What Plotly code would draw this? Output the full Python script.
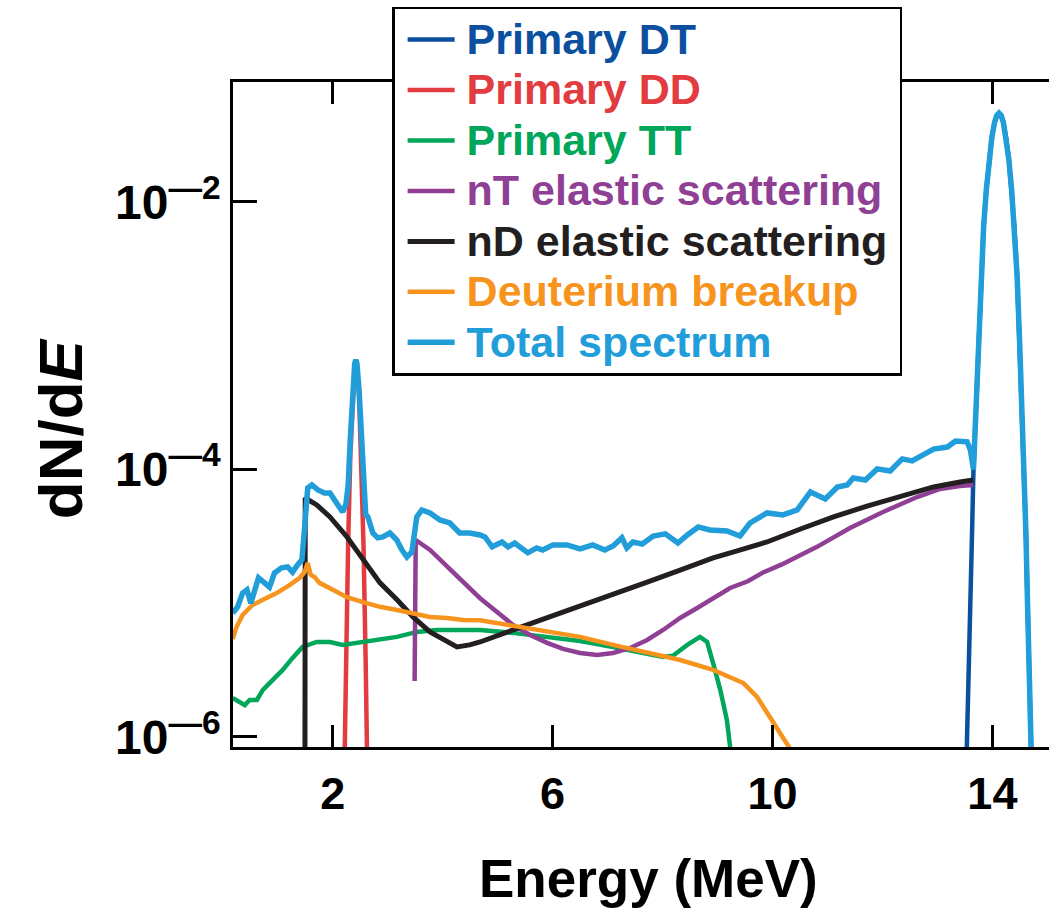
import plotly.graph_objects as go

# ---------------- data ----------------
energy_total = [0.18, 0.27, 0.36, 0.44, 0.51, 0.58, 0.65, 0.76, 0.85, 0.94,
                1.07, 1.18, 1.27, 1.36, 1.44, 1.49, 1.545, 1.62, 1.73, 1.85,
                1.95, 2.07, 2.18, 2.24, 2.28, 2.32, 2.36, 2.40, 2.42, 2.44,
                2.48, 2.52, 2.56, 2.60, 2.64, 2.73, 2.82, 2.91, 3.04, 3.165,
                3.26, 3.35, 3.44, 3.53, 3.62, 3.77, 3.95, 4.13, 4.31, 4.49,
                4.68, 4.77, 4.90, 5.08, 5.19, 5.31, 5.55, 5.71, 5.82, 6.005,
                6.26, 6.50, 6.73, 6.95, 7.10, 7.26, 7.35, 7.46, 7.63, 7.83,
                8.05, 8.28, 8.45, 8.65, 8.86, 9.17, 9.41, 9.59, 9.90, 10.19,
                10.45, 10.69, 10.96, 11.18, 11.36, 11.47, 11.69, 11.905, 12.14, 12.36,
                12.54, 12.82, 12.93, 13.18, 13.33, 13.54, 13.60, 13.656, 13.70, 13.74,
                13.79, 13.84, 13.89, 13.94, 13.99, 14.04, 14.08, 14.12, 14.16, 14.20,
                14.25, 14.30, 14.35, 14.40, 14.45, 14.50, 14.54, 14.584, 14.61, 14.64,
                14.67, 14.694, 14.76]
dnde_total = [8.45e-6, 9.4e-6, 1.19e-5, 1.26e-5, 1.00e-5, 1.26e-5, 1.55e-5, 1.42e-5, 1.32e-5, 1.68e-5,
              1.84e-5, 1.87e-5, 1.71e-5, 1.93e-5, 2.11e-5, 3.72e-5, 7.27e-5, 7.66e-5, 7.03e-5, 6.67e-5,
              6.67e-5, 5.62e-5, 4.81e-5, 5.5e-5, 7.5e-5, 1.7e-4, 3.9e-4, 6.2e-4, 6.6e-4, 6.2e-4,
              3.9e-4, 1.7e-4, 7e-5, 4.6e-5, 4.42e-5, 3.35e-5, 3.08e-5, 3.13e-5, 3.35e-5, 2.97e-5,
              2.50e-5, 2.22e-5, 2.42e-5, 4.42e-5, 4.98e-5, 4.73e-5, 4.19e-5, 3.98e-5, 3.35e-5, 3.35e-5,
              3.24e-5, 3.13e-5, 2.64e-5, 2.87e-5, 2.64e-5, 2.82e-5, 2.38e-5, 2.59e-5, 2.50e-5, 2.73e-5,
              2.73e-5, 2.55e-5, 2.73e-5, 2.50e-5, 2.68e-5, 3.08e-5, 2.59e-5, 2.87e-5, 2.77e-5, 3.18e-5,
              3.30e-5, 2.82e-5, 3.24e-5, 3.72e-5, 3.53e-5, 3.47e-5, 3.18e-5, 3.98e-5, 4.73e-5, 4.57e-5,
              4.98e-5, 6.79e-5, 6.02e-5, 7.40e-5, 7.66e-5, 8.63e-5, 8.35e-5, 1.01e-4, 9.75e-5, 1.20e-4,
              1.16e-4, 1.33e-4, 1.42e-4, 1.47e-4, 1.63e-4, 1.61e-4, 1.40e-4, 1.0e-4, 2.99e-4, 8.0e-4,
              2.79e-3, 6.46e-3, 1.24e-2, 2.07e-2, 3.03e-2, 3.94e-2, 4.44e-2, 4.62e-2, 4.44e-2, 3.94e-2,
              3.03e-2, 2.07e-2, 1.24e-2, 6.46e-3, 2.79e-3, 8.0e-4, 2.99e-4, 1.0e-4, 3.35e-5, 9.7e-6,
              2.75e-6, 1.0e-6, 1.0e-7]

energy_dt = [13.48, 13.546, 13.57, 13.60, 13.63, 13.656, 13.70, 13.74, 13.79, 13.84,
             13.89, 13.94, 13.99, 14.04, 14.08, 14.12, 14.16, 14.20, 14.25, 14.30,
             14.35, 14.40, 14.45, 14.50, 14.54, 14.584, 14.61, 14.64, 14.67, 14.694, 14.76]
dnde_dt = [1e-7, 1e-6, 2.75e-6, 9.7e-6, 3.35e-5, 1.0e-4, 2.99e-4, 8.0e-4, 2.79e-3, 6.46e-3,
           1.24e-2, 2.07e-2, 3.03e-2, 3.94e-2, 4.44e-2, 4.62e-2, 4.44e-2, 3.94e-2, 3.03e-2, 2.07e-2,
           1.24e-2, 6.46e-3, 2.79e-3, 8.0e-4, 2.99e-4, 1.0e-4, 3.35e-5, 9.7e-6, 2.75e-6, 1.0e-6, 1e-7]

energy_dd = [2.20, 2.24, 2.28, 2.32, 2.36, 2.40, 2.42, 2.44, 2.48, 2.52, 2.56, 2.60, 2.64]
dnde_dd = [2.77e-7, 3.56e-6, 2.74e-5, 1.27e-4, 3.52e-4, 5.86e-4, 6.25e-4, 5.86e-4, 3.52e-4,
           1.27e-4, 2.74e-5, 3.56e-6, 2.77e-7]

energy_tt = [0.18, 0.40, 0.49, 0.62, 0.73, 0.91, 1.09, 1.27, 1.45, 1.71,
             1.95, 2.18, 2.44, 2.80, 3.17, 3.53, 3.89, 4.37, 4.68, 5.28,
             5.90, 6.50, 7.10, 7.59, 8.01, 8.19, 8.45, 8.68, 8.81, 8.92,
             9.05, 9.17, 9.23, 9.32]
dnde_tt = [1.96e-6, 1.73e-6, 1.89e-6, 1.89e-6, 2.25e-6, 2.67e-6, 3.17e-6, 3.90e-6, 4.71e-6, 5.13e-6,
           5.13e-6, 4.88e-6, 5.05e-6, 5.31e-6, 5.60e-6, 6.10e-6, 6.31e-6, 6.31e-6, 6.31e-6, 6.0e-6,
           5.60e-6, 5.22e-6, 4.71e-6, 4.25e-6, 3.96e-6, 4.05e-6, 4.88e-6, 5.60e-6, 5.13e-6, 3.57e-6,
           2.25e-6, 1.34e-6, 8.4e-7, 3e-7]

energy_nt = [3.49, 3.51, 3.77, 4.08, 4.37, 4.68, 4.99, 5.28, 5.59, 5.90,
             6.19, 6.50, 6.81, 7.10, 7.41, 7.72, 8.01, 8.32, 8.63, 8.92,
             9.23, 9.55, 9.83, 10.17, 10.81, 11.41, 12.01, 12.63, 13.05, 13.41, 13.65]
dnde_nt = [2.62e-6, 2.97e-5, 2.50e-5, 1.87e-5, 1.42e-5, 1.09e-5, 8.6e-6, 6.88e-6, 5.79e-6, 5.05e-6,
           4.55e-6, 4.25e-6, 4.10e-6, 4.25e-6, 4.63e-6, 5.31e-6, 6.31e-6, 7.76e-6, 9.22e-6, 1.09e-5,
           1.30e-5, 1.46e-5, 1.70e-5, 1.95e-5, 2.64e-5, 3.65e-5, 4.81e-5, 6.22e-5, 7.15e-5, 7.53e-5, 7.66e-5]

energy_nd = [1.49, 1.50, 1.71, 1.95, 2.26, 2.55, 2.86, 3.17, 3.46, 3.77,
             4.08, 4.26, 4.49, 4.68, 5.28, 5.90, 6.50, 7.10, 7.72, 8.32,
             8.92, 9.28, 9.90, 10.51, 11.11, 11.72, 12.32, 12.93, 13.41, 13.65]
dnde_nd = [1e-8, 6.12e-5, 5.43e-5, 4.42e-5, 3.13e-5, 2.11e-5, 1.42e-5, 1.06e-5, 7.89e-6, 6.1e-6,
           5.13e-6, 4.71e-6, 4.88e-6, 5.13e-6, 6.31e-6, 7.76e-6, 9.4e-6, 1.16e-5, 1.44e-5, 1.77e-5,
           2.18e-5, 2.41e-5, 2.87e-5, 3.59e-5, 4.42e-5, 5.33e-5, 6.22e-5, 7.40e-5, 8.07e-5, 8.35e-5]

energy_db = [0.18, 0.25, 0.36, 0.54, 0.73, 0.98, 1.22, 1.40, 1.49, 1.545,
             1.60, 1.67, 1.76, 1.95, 2.26, 2.55, 2.86, 3.17, 3.46, 3.77,
             4.08, 4.37, 4.68, 5.28, 5.90, 6.50, 7.10, 7.72, 8.32, 8.92,
             9.47, 9.72, 9.96, 10.19, 10.30, 10.40]
dnde_db = [5.40e-6, 6.64e-6, 8.17e-6, 9.7e-6, 1.06e-5, 1.19e-5, 1.37e-5, 1.55e-5, 1.71e-5, 2.0e-5,
           1.63e-5, 1.57e-5, 1.42e-5, 1.30e-5, 1.11e-5, 1.02e-5, 9.4e-6, 8.9e-6, 8.45e-6, 7.89e-6,
           7.76e-6, 7.5e-6, 7.45e-6, 6.76e-6, 6.10e-6, 5.60e-6, 4.88e-6, 4.25e-6, 3.76e-6, 3.17e-6,
           2.53e-6, 1.99e-6, 1.41e-6, 1.0e-6, 8.4e-7, 4e-7]

x_tick_vals = [2, 6, 10, 14]
x_tick_text = ["2", "6", "10", "14"]
y_tick_vals = [1e-2, 1e-4, 1e-6]
y_tick_text = ["10<sup>\u20142</sup>", "10<sup>\u20144</sup>", "10<sup>\u20146</sup>"]

series = [
    ("Primary DT", energy_dt, dnde_dt, "#0b4f9f", 4.5),
    ("Primary DD", energy_dd, dnde_dd, "#e23b40", 4.5),
    ("Primary TT", energy_tt, dnde_tt, "#00a65a", 4.5),
    ("nT elastic scattering", energy_nt, dnde_nt, "#8f3f94", 4.5),
    ("nD elastic scattering", energy_nd, dnde_nd, "#231f20", 5),
    ("Deuterium breakup", energy_db, dnde_db, "#f7941d", 4.5),
    ("Total spectrum", energy_total, dnde_total, "#219dd9", 5.5),
]

FONT = "Liberation Sans, Arial, Helvetica, sans-serif"

fig = go.Figure()
for name, xs, ys, color, w in series:
    assert len(xs) == len(ys), name
    fig.add_trace(go.Scatter(
        x=xs, y=ys, mode="lines",
        line=dict(color=color, width=w),
        name=(f"<span style='font-size:25px'>\u00a0</span>"
              f"<span style='font-size:43px;color:{color}'>{name}</span>"
              f"<span style='font-size:25px'>\u00a0</span>"),
    ))

fig.update_layout(
    width=1049, height=908,
    margin=dict(l=233, r=0, t=82, b=161),
    paper_bgcolor="white", plot_bgcolor="white",
    font=dict(family=FONT, color="black", weight="bold"),
    showlegend=True,
    legend=dict(
        x=0.195, y=1.113, xanchor="left", yanchor="top",
        bgcolor="white", bordercolor="black", borderwidth=2.5,
        font=dict(family=FONT, size=36.5, weight="bold"),
        itemwidth=47, indentation=8,
        tracegroupgap=0,
    ),
    xaxis=dict(
        range=[0.186, 15.03],
        tickvals=x_tick_vals, ticktext=x_tick_text,
        ticks="inside", ticklen=22, tickwidth=2.5, tickcolor="black",
        showline=True, linewidth=2.5, linecolor="black", mirror="ticks",
        showgrid=False, zeroline=False,
        tickfont=dict(family=FONT, size=45, weight="bold"),
        ticklabelstandoff=5,
    ),
    yaxis=dict(
        type="log", range=[-6.075, -1.103],
        tickvals=y_tick_vals, ticktext=y_tick_text,
        ticks="inside", ticklen=24, tickwidth=2.5, tickcolor="black",
        showline=True, linewidth=2.5, linecolor="black", mirror=False,
        showgrid=False, zeroline=False,
        tickfont=dict(family=FONT, size=48, weight="bold"),
        ticklabelstandoff=0,
    ),
    yaxis2=dict(
        type="log", range=[-6.075, -1.103], overlaying="y", side="right",
        tickvals=y_tick_vals, ticks="inside", ticklen=16, tickwidth=2.5, tickcolor="black",
        showticklabels=False, showline=False, showgrid=False, zeroline=False,
    ),
    annotations=[
        dict(text="dN/d<i>E</i>", textangle=-90, showarrow=False,
             xref="paper", yref="paper", x=-0.212, y=0.478,
             xanchor="center", yanchor="middle",
             font=dict(family=FONT, size=62, weight="bold", color="black")),
        dict(text="Energy (MeV)", showarrow=False,
             xref="paper", yref="paper", x=0.5086, y=-0.197,
             xanchor="center", yanchor="middle",
             font=dict(family=FONT, size=53, weight="bold", color="black")),
    ],
)

fig.write_html("out.html")
